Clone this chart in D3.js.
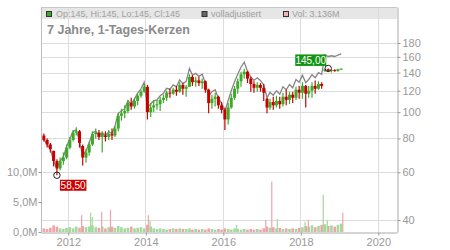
<!DOCTYPE html>
<html><head><meta charset="utf-8">
<script src="https://cdn.jsdelivr.net/npm/d3@7/dist/d3.min.js"></script>
<style>
html,body{margin:0;padding:0;background:#fff;}
svg{display:block;font-family:"Liberation Sans",Arial,sans-serif;}
</style></head>
<body>
<svg id="c" width="450" height="250"></svg>
<script>
// ---- data (monthly candles, May 2011 - Jan 2019) ----
const firstMonth = "2011-05";
const lastMonth = "2019-01";
const opens = [82,79,76,72,66,62,66,68,
 74,79,84,85,75,68,71,76,83,84,81,82,
 81,83,82,87,97,99,101,108,105,110,115,119,
 124,100,104,106,107,111,113,118,117,121,119,126,
 122,124,135,129,131,128,130,121,108,112,114,106,
 102,94,104,113,122,130,138,141,133,127,123,126,
 123,112,104,109,106,110,107,114,111,116,113,121,
 118,125,117,120,125,122,127,142,144,142,143,142,
 144];
const highs = [83.5,80,77,72,67,68,71,76,
 81,86,88,86,76,73,78,85,87,86,85,85,
 86,87,89,99,103,106,111,113,113,117,121,127,
 126,108,111,111,114,116,120,122,123,125,129,128,
 126,138,137,135,135,133,131,122,116,118,115,109,
 104,108,117,125,133,141,144.5,142,135,130,129,128,
 127,113,112,114,115,114,118,121,119,119,124,125,
 129,126,125,129,131,130,129,144.6,145,144,144,144.5,
 145];
const lows = [78,74,71,63,58.5,61,64,67,
 73,78,82,74,63.5,65,69,75,80,79,71,78,
 79,79,81,85,93,95,99,102,103,106,113,118,
 94,96,100,102,101,108,110,113,116,115,118,116,
 114,124,125,124,125,122,118,99,103,105,103,99,
 86,90,103,111,117,124,133,128,119,118,119,119,
 110,99,102,102,104,103,105,106,107,108,111,112,
 112,104,113,113,117,121,122,141,141,140,141,141,
 143];
const closes = [79,76,73,66,62,66,68,74,
 79,84,85,77,68,71,76,83,84,81,83,81,
 83,82,87,97,99,101,108,105,110,115,119,124,
 100,104,106,107,111,113,118,117,121,119,126,122,
 124,135,129,131,128,130,121,108,112,114,106,102,
 94,104,113,122,130,138,141,133,127,123,126,123,
 118,104,109,106,110,107,114,111,116,113,121,118,
 125,117,120,125,122,127,125,144,142,143,142,144,
 144.8];
const adjusted = [79,76,73,66,62,66,68.5,74.5,
 80,85,86,78,69,72,77,84,85,82,84,82,
 84.5,83.5,89,99,101,103,110,107,112,117.5,122,129,
 103.5,107.5,110,111,115,117.5,122.5,121.5,126,124,131.5,127.5,
 130,145,137,139,135.5,138,128,114.5,119,121,112.5,108,
 100,110.5,120,129.5,138,146.5,153,141.5,135,131,134,131,
 126,113,118.5,115.5,120,116.5,124,121,126.5,123,132,129,
 137,128.5,132,137.5,134,140,138,162.5,160.5,161.5,160.5,162.5,
 164];
const volumesM = [0.6,0.5,0.7,1.1,0.9,0.6,0.5,0.7,
 0.8,0.6,0.9,0.7,1.0,0.8,0.9,1.1,0.8,0.7,0.9,0.6,
 0.8,0.9,0.7,1.0,0.8,0.6,0.7,0.9,0.6,0.7,0.8,0.6,
 1.2,0.9,0.6,0.5,0.6,0.5,0.4,0.5,0.6,0.5,0.6,0.5,
 0.5,0.6,0.4,0.5,0.4,0.5,0.4,0.6,0.5,0.4,0.5,0.4,
 0.6,0.5,0.4,0.6,0.5,0.4,0.5,0.4,0.5,0.4,0.5,0.4,
 0.6,0.9,0.7,0.8,0.6,0.7,0.5,0.6,0.5,0.6,0.5,0.7,
 0.8,1.0,0.9,1.1,0.8,1.0,1.2,1.3,1.0,1.1,0.9,1.2,
 1.4];
const spikeDates = ["2012-05-05","2012-07-28","2012-08-13","2012-11-10","2013-02-01","2014-01-24","2014-02-09","2016-05-05","2017-02-04","2017-04-01","2017-05-23","2018-02-09","2018-03-11","2018-07-30","2018-09-06","2019-01-30"];
const spikeVolsM = [2.8,3.2,2.5,3.4,3.7,2.8,1.9,1.2,2.0,8.4,2.2,1.7,2.0,6.2,2.0,3.2];
const spikeUp = [0,1,1,0,0,0,1,1,0,0,1,1,0,1,1,0];
const priceTicks = [40,60,80,100,120,140,160,180];
const volTicksM = [0,5,10];
const yearTicks = [2012,2014,2016,2018,2020];
const titleText = "7 Jahre, 1-Tages-Kerzen";
const legendItems = ["Op:145, Hi:145, Lo:145, Cl:145","volladjustiert","Vol: 3.136M"];

// ---- setup ----
const svg = d3.select("#c");
const L = 41, R = 397, T = 7, B = 232;
const parseM = d3.timeParse("%Y-%m"), parseD = d3.timeParse("%Y-%m-%d");
const months = d3.timeMonth.range(parseM(firstMonth), d3.timeMonth.offset(parseM(lastMonth), 1));
const mid = d => d3.timeDay.offset(d, 15);

const x = d3.scaleTime().domain([new Date(2011,3,19), new Date(2020,5,25)]).range([L, R]);
const y = d3.scaleLog().domain([36.12, 244.4]).range([B, T]);
const yv = d3.scaleLinear().domain([0, 10]).range([B, 172]);

const loc = d3.formatLocale({decimal:",", thousands:".", grouping:[3], currency:["","€"]});
const f2 = loc.format(".2f"), f1 = loc.format(".1f");

const green = "#3fa92a", red = "#c80000", volGreen = "#a3d99a", volPink = "#f0a3ab";

// legend band
svg.append("rect").attr("x", L).attr("y", T).attr("width", R - L).attr("height", 12).attr("fill", "#e6e6e6");

// grid
const g = svg.append("g");
g.selectAll("line.v").data(yearTicks).join("line")
  .attr("x1", d => x(new Date(d,0,1))).attr("x2", d => x(new Date(d,0,1)))
  .attr("y1", T).attr("y2", B).attr("stroke", "#dcdcdc").attr("stroke-width", 1).attr("shape-rendering","crispEdges");
g.selectAll("line.h").data(priceTicks).join("line")
  .attr("x1", L).attr("x2", R).attr("y1", d => Math.round(y(d))+0.5).attr("y2", d => Math.round(y(d))+0.5)
  .attr("stroke", "#dcdcdc").attr("stroke-width", 1);

// volume bars
const data = months.map((m, i) => ({d: m, o: opens[i], h: highs[i], l: lows[i], c: closes[i], a: adjusted[i], v: volumesM[i]}));
svg.append("g").selectAll("rect").data(data).join("rect")
  .attr("x", d => x(mid(d.d)) - 1.3).attr("width", 2.6)
  .attr("y", d => yv(d.v)).attr("height", d => B - yv(d.v))
  .attr("fill", d => d.c >= d.o ? volGreen : volPink);
const spikes = spikeDates.map((s, i) => ({d: parseD(s), v: spikeVolsM[i], up: spikeUp[i]}));
svg.append("g").selectAll("rect").data(spikes).join("rect")
  .attr("x", d => x(d.d) - 0.5).attr("width", 1.2)
  .attr("y", d => yv(d.v)).attr("height", d => B - yv(d.v))
  .attr("fill", d => d.up ? volGreen : volPink);

// adjusted line
svg.append("path").datum(data)
  .attr("d", d3.line().x(d => x(mid(d.d))).y(d => y(d.a)))
  .attr("fill", "none").attr("stroke", "#858585").attr("stroke-width", 1.3);

// candles
const cg = svg.append("g");
cg.selectAll("line").data(data).join("line")
  .attr("x1", d => x(mid(d.d))).attr("x2", d => x(mid(d.d)))
  .attr("y1", d => y(d.h)).attr("y2", d => y(d.l))
  .attr("stroke", d => d.c >= d.o ? green : red).attr("stroke-width", 1.2);
cg.selectAll("rect").data(data).join("rect")
  .attr("x", d => x(mid(d.d)) - 1.5).attr("width", 3)
  .attr("y", d => y(Math.max(d.o, d.c))).attr("height", d => Math.max(1, Math.abs(y(d.o) - y(d.c))))
  .attr("fill", d => d.c >= d.o ? green : red);

// max / min annotations
const iMax = d3.maxIndex(highs), iMin = d3.minIndex(lows);
const maxP = {x: x(mid(months[iMax])), y: y(highs[iMax])};
const minP = {x: x(mid(months[iMin])), y: y(lows[iMin])};
svg.append("rect").attr("x", maxP.x - 33).attr("y", maxP.y - 14).attr("width", 31).attr("height", 11.5).attr("fill", "#129612");
svg.append("text").attr("x", maxP.x - 17.5).attr("y", maxP.y - 4.6).attr("text-anchor", "middle")
  .attr("font-size", 10).attr("fill", "#fff").text(f2(highs[iMax]));
svg.append("circle").attr("cx", maxP.x).attr("cy", maxP.y).attr("r", 3.2).attr("fill", "none").attr("stroke", "#222").attr("stroke-width", 1);
svg.append("rect").attr("x", minP.x + 3).attr("y", minP.y + 4.5).attr("width", 26.5).attr("height", 11).attr("fill", "#cc0000");
svg.append("text").attr("x", minP.x + 16.2).attr("y", minP.y + 13.7).attr("text-anchor", "middle")
  .attr("font-size", 10).attr("fill", "#fff").text(f2(lows[iMin]));
svg.append("circle").attr("cx", minP.x).attr("cy", minP.y).attr("r", 3.2).attr("fill", "none").attr("stroke", "#222").attr("stroke-width", 1);

// frame
svg.append("line").attr("x1", L+0.5).attr("x2", L+0.5).attr("y1", T).attr("y2", B).attr("stroke", "#bdbdbd");
svg.append("line").attr("x1", L).attr("x2", R).attr("y1", T+0.5).attr("y2", T+0.5).attr("stroke", "#c8c8c8");

// axes
function styleAxis(sel) {
  sel.selectAll("text").attr("fill", "#999").attr("font-size", 11).attr("font-family", "Liberation Sans, Arial, sans-serif");
  sel.selectAll("line").attr("stroke", "#999");
  sel.select(".domain").attr("stroke", "#aaa");
}
svg.append("g").attr("transform", `translate(${R+0.5},0)`)
  .call(d3.axisRight(y).tickValues(priceTicks).tickFormat(d3.format("d")).tickSize(3).tickSizeOuter(0).tickPadding(2))
  .call(styleAxis);
svg.append("g").attr("transform", `translate(${L+0.5},0)`)
  .call(d3.axisLeft(yv).tickValues(volTicksM).tickFormat(d => f1(d) + "M").tickSize(3).tickSizeOuter(0).tickPadding(1))
  .call(styleAxis).call(s => s.select(".domain").remove());
svg.append("g").attr("transform", `translate(0,${B+0.5})`)
  .call(d3.axisBottom(x).tickValues(yearTicks.map(t => new Date(t,0,1))).tickFormat(d3.timeFormat("%Y")).tickSize(3).tickSizeOuter(0).tickPadding(3))
  .call(styleAxis);

// title
svg.append("text").attr("x", 47).attr("y", 34).attr("font-size", 12.5).attr("font-weight", "bold")
  .attr("fill", "#8a8a8a").text(titleText);

// legend
const legSw = [{x: 46, fill: green}, {x: 201.5, fill: "#666"}, {x: 283, fill: "#f2b3b9"}];
const legTx = [56, 211, 292];
legSw.forEach((s, i) => {
  svg.append("rect").attr("x", s.x + 0.5).attr("y", 11.5).attr("width", 5).attr("height", 5)
    .attr("fill", s.fill).attr("stroke", "#333").attr("stroke-width", 1);
  svg.append("text").attr("x", legTx[i]).attr("y", 17.3).attr("font-size", 9).attr("fill", "#a0a0a0").text(legendItems[i]);
});
</script>
</body></html>
